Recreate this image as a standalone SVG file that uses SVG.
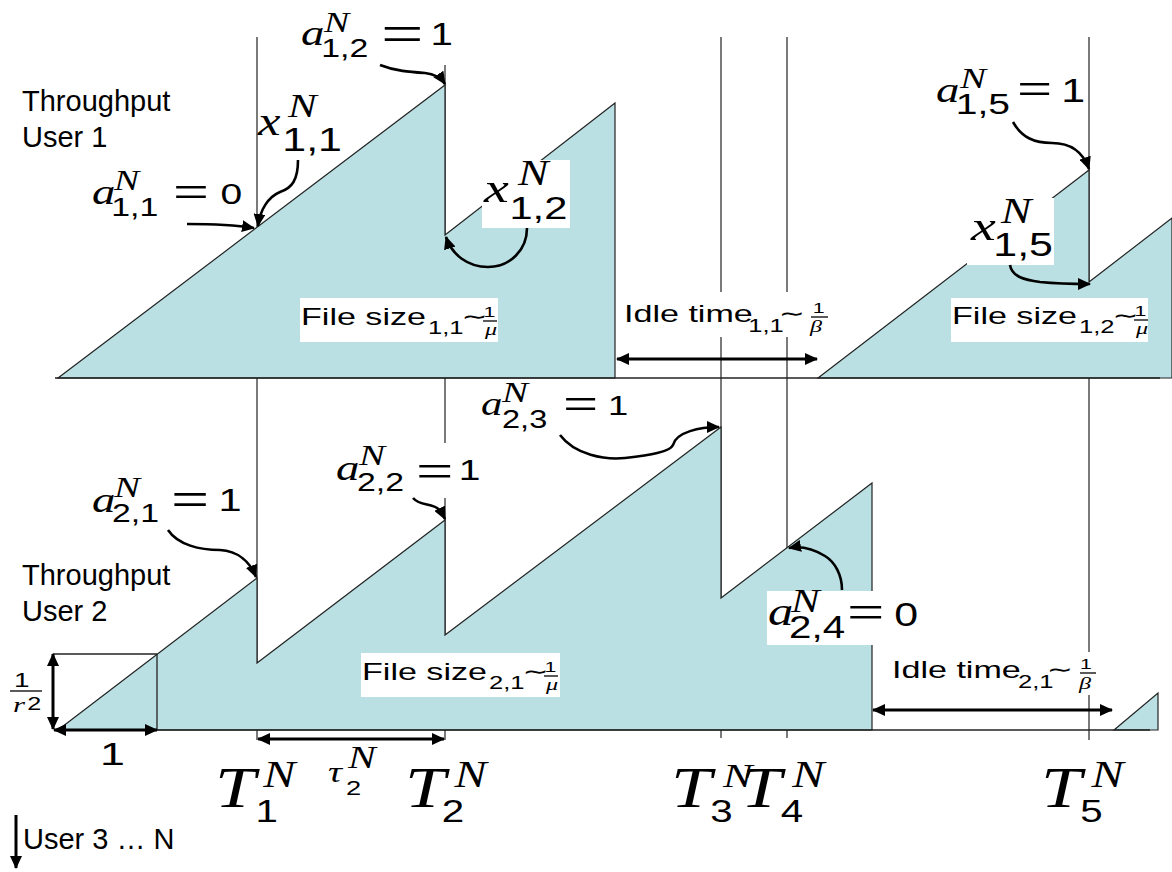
<svg xmlns="http://www.w3.org/2000/svg" width="1172" height="872" viewBox="0 0 1172 872">
<style>
.guide{stroke:#222;stroke-width:1.2;fill:none}
.area{fill:#BAE0E3;stroke:#222;stroke-width:1.2;stroke-linejoin:miter}
.base{stroke:#222;stroke-width:1.5;fill:none}
.wbox{fill:#fff;stroke:none}
.conn{stroke:#000;stroke-width:2.6;fill:none}
.dbl{stroke:#000;stroke-width:3;fill:none}
.thin{stroke:#222;stroke-width:1.3;fill:none}
.mi{font-family:"Liberation Serif","DejaVu Serif",serif;font-style:italic;fill:#000}
.mr{font-family:"Liberation Serif","DejaVu Serif",serif;font-style:normal}
.mn{font-family:"Liberation Sans","DejaVu Sans",sans-serif;font-style:normal;fill:#000}
.sim{font-family:"DejaVu Sans","Liberation Sans",sans-serif;font-style:normal}
.lbl{font-family:"Liberation Sans",Arial,sans-serif;font-size:29px;fill:#000}
.bar{stroke:#000;stroke-width:1.3}
</style>
<defs>
<marker id="ah" markerUnits="userSpaceOnUse" markerWidth="14" markerHeight="12" refX="12" refY="6" orient="auto-start-reverse"><path d="M0,0 L13,6 L0,12 z" fill="#000"/></marker>
</defs>
<rect width="1172" height="872" fill="#fff"/>

<g id="guides">
<line class="guide" x1="257" y1="37" x2="257" y2="740"/>
<line class="guide" x1="445" y1="65" x2="445" y2="740"/>
<line class="guide" x1="721" y1="37" x2="721" y2="738"/>
<line class="guide" x1="787" y1="37" x2="787" y2="738"/>
<line class="guide" x1="1089" y1="37" x2="1089" y2="740"/>
</g>

<g id="user1-throughput">
<polygon class="area" points="58,378 445,85 445,235 615,103 615,378"/>
<polygon class="area" points="818,378 1089,170 1089,282 1172,218 1172,378"/>
<line class="base" x1="55" y1="378" x2="1160" y2="378"/>
</g>

<g id="user2-throughput">
<polygon class="area" points="58,730 257,578 257,663 445,520 445,635 721,427 721,598 872,483 872,730"/>
<polygon class="area" points="1114,730 1158,693 1158,730"/>
<line class="base" x1="55" y1="730" x2="1150" y2="730"/>
<line class="thin" x1="53" y1="654" x2="157" y2="654"/>
<line class="thin" x1="157" y1="654" x2="157" y2="730"/>
</g>

<g id="label-boxes">
<rect class="wbox" x="300" y="298" width="198" height="44"/>
<rect class="wbox" x="618" y="292" width="217" height="45"/>
<rect class="wbox" x="951" y="298" width="197" height="44"/>
<rect class="wbox" x="482" y="160" width="88" height="68"/>
<rect class="wbox" x="967" y="198" width="87" height="67"/>
<rect class="wbox" x="333" y="443" width="154" height="55"/>
<rect class="wbox" x="767" y="591" width="158" height="54"/>
<rect class="wbox" x="361" y="653" width="199" height="44"/>
<rect class="wbox" x="880" y="652" width="222" height="43"/>
</g>

<g id="connectors">
<path class="conn" marker-end="url(#ah)" d="M187,224 C210,224 235,225 254,228"/>
<path class="conn" marker-end="url(#ah)" d="M298,160 C298,180 292,188 280,192 C268,197 260,210 258,226"/>
<path class="conn" marker-end="url(#ah)" d="M380,65 C395,71 410,72 425,73 C435,74 441,78 445,84"/>
<path class="conn" marker-end="url(#ah)" d="M527,228 C527,250 510,267 488,267 C468,267 452,255 446,237"/>
<path class="conn" marker-end="url(#ah)" d="M1013,122 C1022,138 1035,143 1052,143 C1070,143 1083,152 1089,169"/>
<path class="conn" marker-end="url(#ah)" d="M1010,265 C1012,277 1025,280 1040,282 C1060,284 1075,284 1090,284"/>
<path class="conn" marker-end="url(#ah)" d="M168,530 C178,545 200,550 220,550 C238,551 250,562 256,577"/>
<path class="conn" marker-end="url(#ah)" d="M413,498 C420,506 430,503 437,508 C441,511 443,515 445,519"/>
<path class="conn" marker-end="url(#ah)" d="M560,435 C575,455 605,460 625,458 C650,455 670,452 673,445 C676,432 700,427 719,427"/>
<path class="conn" marker-end="url(#ah)" d="M842,590 C842,575 835,562 825,556 C812,548 800,546 789,548"/>
<line class="dbl" marker-start="url(#ah)" marker-end="url(#ah)" x1="617" y1="359" x2="817" y2="359"/>
<line class="dbl" marker-start="url(#ah)" marker-end="url(#ah)" x1="873" y1="710" x2="1112" y2="710"/>
<line class="dbl" marker-start="url(#ah)" marker-end="url(#ah)" x1="258" y1="739" x2="444" y2="739"/>
<line class="dbl" marker-start="url(#ah)" marker-end="url(#ah)" x1="53" y1="654" x2="53" y2="729"/>
<line class="dbl" marker-start="url(#ah)" marker-end="url(#ah)" x1="54" y1="730" x2="157" y2="730"/>
<line class="dbl" marker-end="url(#ah)" x1="16" y1="815" x2="16" y2="868"/>
</g>

<g id="axis-labels">
<text class="lbl" x="22" y="111">Throughput</text>
<text class="lbl" x="22" y="147">User 1</text>
<text class="lbl" x="22" y="585">Throughput</text>
<text class="lbl" x="22" y="621">User 2</text>
<text class="lbl" x="23" y="849">User 3 … N</text>
</g>

<g id="lbl-a11"><text class="mi" transform="translate(92,204) scale(1.3,1)" font-size="36"><tspan x="0" y="0">a</tspan><tspan x="16.9" y="-14" font-size="29">N</tspan><tspan class="mn" x="14.8" y="12" font-size="26">1,1</tspan><tspan class="mr" x="62.3" y="4.2" font-size="49">=</tspan><tspan class="mn" x="98.8" y="0" font-size="30">0</tspan></text></g>

<g id="lbl-x11"><text class="mi" transform="translate(258,135) scale(1.3,1)" font-size="39"><tspan x="0" y="0">x</tspan><tspan x="23.1" y="-18" font-size="33">N</tspan><tspan class="mn" x="18.7" y="16" font-size="33">1,1</tspan></text></g>

<g id="lbl-a12"><text class="mi" transform="translate(301,45) scale(1.3,1)" font-size="36"><tspan x="0" y="0">a</tspan><tspan x="17.7" y="-13" font-size="29">N</tspan><tspan class="mn" x="15.6" y="12" font-size="26">1,2</tspan><tspan class="mr" x="61.5" y="8.4" font-size="58">=</tspan><tspan class="mn" x="99.7" y="0" font-size="31">1</tspan></text></g>

<g id="lbl-x12"><text class="mi" transform="translate(484,202) scale(1.3,1)" font-size="43"><tspan x="0" y="0">x</tspan><tspan x="26.2" y="-17" font-size="35">N</tspan><tspan class="mn" x="19.6" y="17" font-size="32">1,2</tspan></text></g>

<g id="lbl-a15"><text class="mi" transform="translate(936,102) scale(1.3,1)" font-size="36"><tspan x="0" y="0">a</tspan><tspan x="18.5" y="-14" font-size="30">N</tspan><tspan class="mn" x="15.2" y="12" font-size="30">1,5</tspan><tspan class="mr" x="62.3" y="3.4" font-size="48">=</tspan><tspan class="mn" x="96.4" y="0" font-size="33">1</tspan></text></g>

<g id="lbl-x15"><text class="mi" transform="translate(971,240) scale(1.3,1)" font-size="43"><tspan x="0" y="0">x</tspan><tspan x="23.1" y="-17" font-size="35">N</tspan><tspan class="mn" x="17.2" y="16" font-size="33">1,5</tspan></text></g>

<g id="lbl-a21"><text class="mi" transform="translate(92,512) scale(1.3,1)" font-size="36"><tspan x="0" y="0">a</tspan><tspan x="16.9" y="-15" font-size="30">N</tspan><tspan class="mn" x="15.4" y="10" font-size="26">2,1</tspan><tspan class="mr" x="60.8" y="4.6" font-size="52">=</tspan><tspan class="mn" x="97.3" y="-1" font-size="32">1</tspan></text></g>

<g id="lbl-a22"><text class="mi" transform="translate(336,480) scale(1.3,1)" font-size="36"><tspan x="0" y="0">a</tspan><tspan x="17.7" y="-15" font-size="30">N</tspan><tspan class="mn" x="16.2" y="11" font-size="26">2,2</tspan><tspan class="mr" x="61.5" y="8.3" font-size="51">=</tspan><tspan class="mn" x="94.4" y="0" font-size="30">1</tspan></text></g>

<g id="lbl-a23"><text class="mi" transform="translate(481,415) scale(1.3,1)" font-size="33"><tspan x="0" y="0">a</tspan><tspan x="16.2" y="-13" font-size="30">N</tspan><tspan class="mn" x="16.2" y="13" font-size="25">2,3</tspan><tspan class="mr" x="63.1" y="5.4" font-size="48">=</tspan><tspan class="mn" x="97.7" y="0" font-size="28">1</tspan></text></g>

<g id="lbl-a24"><text class="mi" transform="translate(768,625) scale(1.3,1)" font-size="39"><tspan x="0" y="0">a</tspan><tspan x="17.7" y="-13" font-size="33">N</tspan><tspan class="mn" x="16.2" y="13" font-size="31">2,4</tspan><tspan class="mr" x="60.8" y="4.3" font-size="51">=</tspan><tspan class="mn" x="97.1" y="1" font-size="33">0</tspan></text></g>

<g id="lbl-filesize11">
<text class="mn" transform="translate(301,325) scale(1.42,1)" font-size="24"><tspan x="0" y="0">File size</tspan><tspan x="89.4" y="9" font-size="18">1,1</tspan><tspan class="sim" x="113" y="-1" font-size="22">∼</tspan><tspan x="128.6" y="-8" font-size="15">1</tspan><tspan class="mi" x="129.6" y="10" font-size="17">μ</tspan></text>
<line class="bar" x1="483" y1="321" x2="497" y2="321"/>
</g>

<g id="lbl-filesize12">
<text class="mn" transform="translate(952,324) scale(1.42,1)" font-size="24"><tspan x="0" y="0">File size</tspan><tspan x="89.4" y="9" font-size="18">1,2</tspan><tspan class="sim" x="113" y="-1" font-size="22">∼</tspan><tspan x="128.6" y="-8" font-size="15">1</tspan><tspan class="mi" x="129.6" y="10" font-size="17">μ</tspan></text>
<line class="bar" x1="1134" y1="320" x2="1148" y2="320"/>
</g>

<g id="lbl-filesize21">
<text class="mn" transform="translate(362,680) scale(1.42,1)" font-size="24"><tspan x="0" y="0">File size</tspan><tspan x="89.4" y="9" font-size="18">2,1</tspan><tspan class="sim" x="113" y="-1" font-size="22">∼</tspan><tspan x="128.6" y="-8" font-size="15">1</tspan><tspan class="mi" x="129.6" y="10" font-size="17">μ</tspan></text>
<line class="bar" x1="544" y1="676" x2="558" y2="676"/>
</g>

<g id="lbl-idle11">
<text class="mn" transform="translate(624,322) scale(1.42,1)" font-size="24"><tspan x="0" y="0">Idle time</tspan><tspan x="87.5" y="10" font-size="18">1,1</tspan><tspan class="sim" x="109" y="-1" font-size="22">∼</tspan><tspan x="132.9" y="-9" font-size="15">1</tspan><tspan class="mi" x="131" y="10" font-size="17">β</tspan></text>
<line class="bar" x1="811" y1="317" x2="828" y2="317"/>
</g>

<g id="lbl-idle21">
<text class="mn" transform="translate(892,678) scale(1.42,1)" font-size="24"><tspan x="0" y="0">Idle time</tspan><tspan x="88.7" y="10" font-size="18">2,1</tspan><tspan class="sim" x="109" y="-1" font-size="22">∼</tspan><tspan x="132.4" y="-9" font-size="15">1</tspan><tspan class="mi" x="131.7" y="11" font-size="17">β</tspan></text>
<line class="bar" x1="1080" y1="673" x2="1096" y2="673"/>
</g>

<g id="lbl-scale">
<text class="mn" transform="translate(14,687) scale(1.4,1)" font-size="20"><tspan x="0" y="0">1</tspan><tspan class="mi" x="-0.7" y="25" font-size="22">r</tspan><tspan x="9.4" y="23" font-size="18">2</tspan></text>
<line class="bar" x1="10" y1="691" x2="42" y2="691" stroke-width="1.6"/>
<text class="mn" transform="translate(100,765) scale(1.4,1)" font-size="32">1</text>
</g>

<g id="lbl-T1"><text class="mi" transform="translate(215,807) scale(1.3,1)" font-size="56"><tspan x="0" y="0">T</tspan><tspan x="37.2" y="-20" font-size="37">N</tspan><tspan class="mn" x="31.2" y="15" font-size="31">1</tspan></text></g>
<g id="lbl-tau2"><text class="mi" transform="translate(328,782) scale(1.3,1)" font-size="30"><tspan x="0" y="0">τ</tspan><tspan x="15.4" y="-14" font-size="32">N</tspan><tspan class="mn" x="13.8" y="13" font-size="21">2</tspan></text></g>
<g id="lbl-T2"><text class="mi" transform="translate(405,807) scale(1.3,1)" font-size="56"><tspan x="0" y="0">T</tspan><tspan x="38" y="-20" font-size="37">N</tspan><tspan class="mn" x="28.3" y="15" font-size="31">2</tspan></text></g>
<g id="lbl-T3"><text class="mi" transform="translate(671,807) scale(1.3,1)" font-size="56"><tspan x="0" y="0">T</tspan><tspan x="40" y="-20" font-size="34">N</tspan><tspan class="mn" x="30.3" y="15" font-size="31">3</tspan></text></g>
<g id="lbl-T4"><text class="mi" transform="translate(741,807) scale(1.3,1)" font-size="56"><tspan x="0" y="0">T</tspan><tspan x="39.4" y="-20" font-size="37">N</tspan><tspan class="mn" x="30.5" y="15" font-size="31">4</tspan></text></g>
<g id="lbl-T5"><text class="mi" transform="translate(1041,807) scale(1.3,1)" font-size="56"><tspan x="0" y="0">T</tspan><tspan x="38.9" y="-20" font-size="37">N</tspan><tspan class="mn" x="30.3" y="15" font-size="31">5</tspan></text></g>
</svg>
